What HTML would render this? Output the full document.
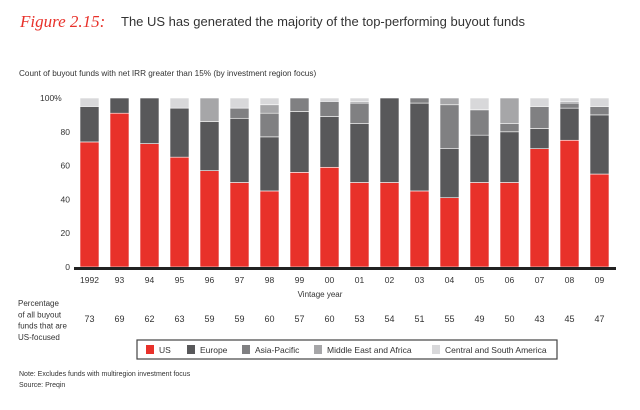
<!DOCTYPE html>
<html><head><meta charset="utf-8"><style>
body{margin:0;background:#fff;width:640px;height:405px;overflow:hidden;font-family:"Liberation Sans",sans-serif;}
svg text{font-family:"Liberation Sans",sans-serif;fill:#333;}
</style></head><body>
<svg id="chart" width="640" height="405" viewBox="0 0 640 405">
<text x="20" y="27" style="font-family:'Liberation Serif',serif;font-style:italic;font-size:17px;fill:#e8312a">Figure 2.15:</text>
<text x="121" y="26" font-size="13" fill="#222">The US has generated the majority of the top-performing buyout funds</text>
<text x="19" y="76" font-size="8.2">Count of buyout funds with net IRR greater than 15% (by investment region focus)</text>
<g id="yaxis"></g><g id="bars"></g><g id="xaxis"></g>
<text x="320" y="297" font-size="8" text-anchor="middle">Vintage year</text>
<text x="18" y="306" font-size="8"><tspan x="18">Percentage</tspan><tspan x="18" dy="11.3">of all buyout</tspan><tspan x="18" dy="11.3">funds that are</tspan><tspan x="18" dy="11.3">US-focused</tspan></text>
<g id="pcts"></g>
<g>
<rect x="137" y="340" width="420" height="19" fill="#fff" stroke="#444" stroke-width="1.2"/>
<g id="legend"></g>
</g>
<text x="19" y="376" font-size="7">Note: Excludes funds with multiregion investment focus</text>
<text x="19" y="387" font-size="7">Source: Preqin</text>
</svg>
<script>
const years=["1992","93","94","95","96","97","98","99","00","01","02","03","04","05","06","07","08","09"];
const us=[74,91,73,65,57,50,45,56,59,50,50,45,41,50,50,70,75,55];
const europe=[21,9,27,29,29,38,32,36,30,35,50,52,29,28,30,12,19,35];
const asiaPacific=[0,0,0,0,0,6,14,8,9,12,0,3,26,15,5,13,3,5];
const middleEast=[0,0,0,0,14,0,5,0,0,1,0,0,4,0,15,0,1,0];
const centralSouth=[5,0,0,6,0,6,4,0,2,2,0,0,0,7,0,5,2,5];
const usPct=["73","69","62","63","59","59","60","57","60","53","54","51","55","49","50","43","45","47"];
const yTicks=[0,20,40,60,80,100];
const seriesNames=["US","Europe","Asia-Pacific","Middle East and Africa","Central and South America"];
const colors=["#e8312a","#58585a","#808082","#a6a6a8","#d8d8da"];
const series=[us,europe,asiaPacific,middleEast,centralSouth];
const NS="http://www.w3.org/2000/svg";
const y0=267,y1=98,x0=80,pitch=30,bw=19;
const ys=v=>y0-(v/100)*(y0-y1);
const xs=i=>x0+i*pitch;
function mk(tag,attrs,parent){const e=document.createElementNS(NS,tag);for(const k in attrs)e.setAttribute(k,attrs[k]);parent.appendChild(e);return e;}
const yaxis=document.getElementById('yaxis');
yTicks.forEach(t=>{const e=mk('text',{x:t===100?40:70,y:ys(t)+3,'font-size':8.5,'text-anchor':t===100?'start':'end'},yaxis);


e.textContent=t===100?'100%':String(t);});
const bars=document.getElementById('bars');
years.forEach((yr,i)=>{let cum=0;
series.forEach((s,k)=>{const v=s[i];if(v<=0)return;
const r=mk('rect',{x:xs(i),y:ys(cum+v),width:bw,height:ys(cum)-ys(cum+v),fill:colors[k],stroke:'#fff','stroke-width':0.6},bars);


cum+=v;});});
const xaxis=document.getElementById('xaxis');
const ax=mk('rect',{x:74,y:267,width:542,height:3,fill:'#222'},xaxis);


years.forEach((yr,i)=>{const t=mk('text',{x:xs(i)+bw/2,y:283,'font-size':8.5,'text-anchor':'middle'},xaxis);


t.textContent=yr;});
const pcts=document.getElementById('pcts');
usPct.forEach((p,i)=>{const t=mk('text',{x:xs(i)+bw/2,y:322,'font-size':9,'text-anchor':'middle'},pcts);


t.textContent=p;});
const leg=document.getElementById('legend');
const lx=[146,187,242,314,432];
seriesNames.forEach((n,k)=>{const g=mk('g',{},leg);


mk('rect',{x:lx[k],y:345,width:8,height:9,fill:colors[k]},g);
const t=mk('text',{x:lx[k]+13,y:353,'font-size':8.5},g);t.textContent=n;});
</script>
</body></html>
